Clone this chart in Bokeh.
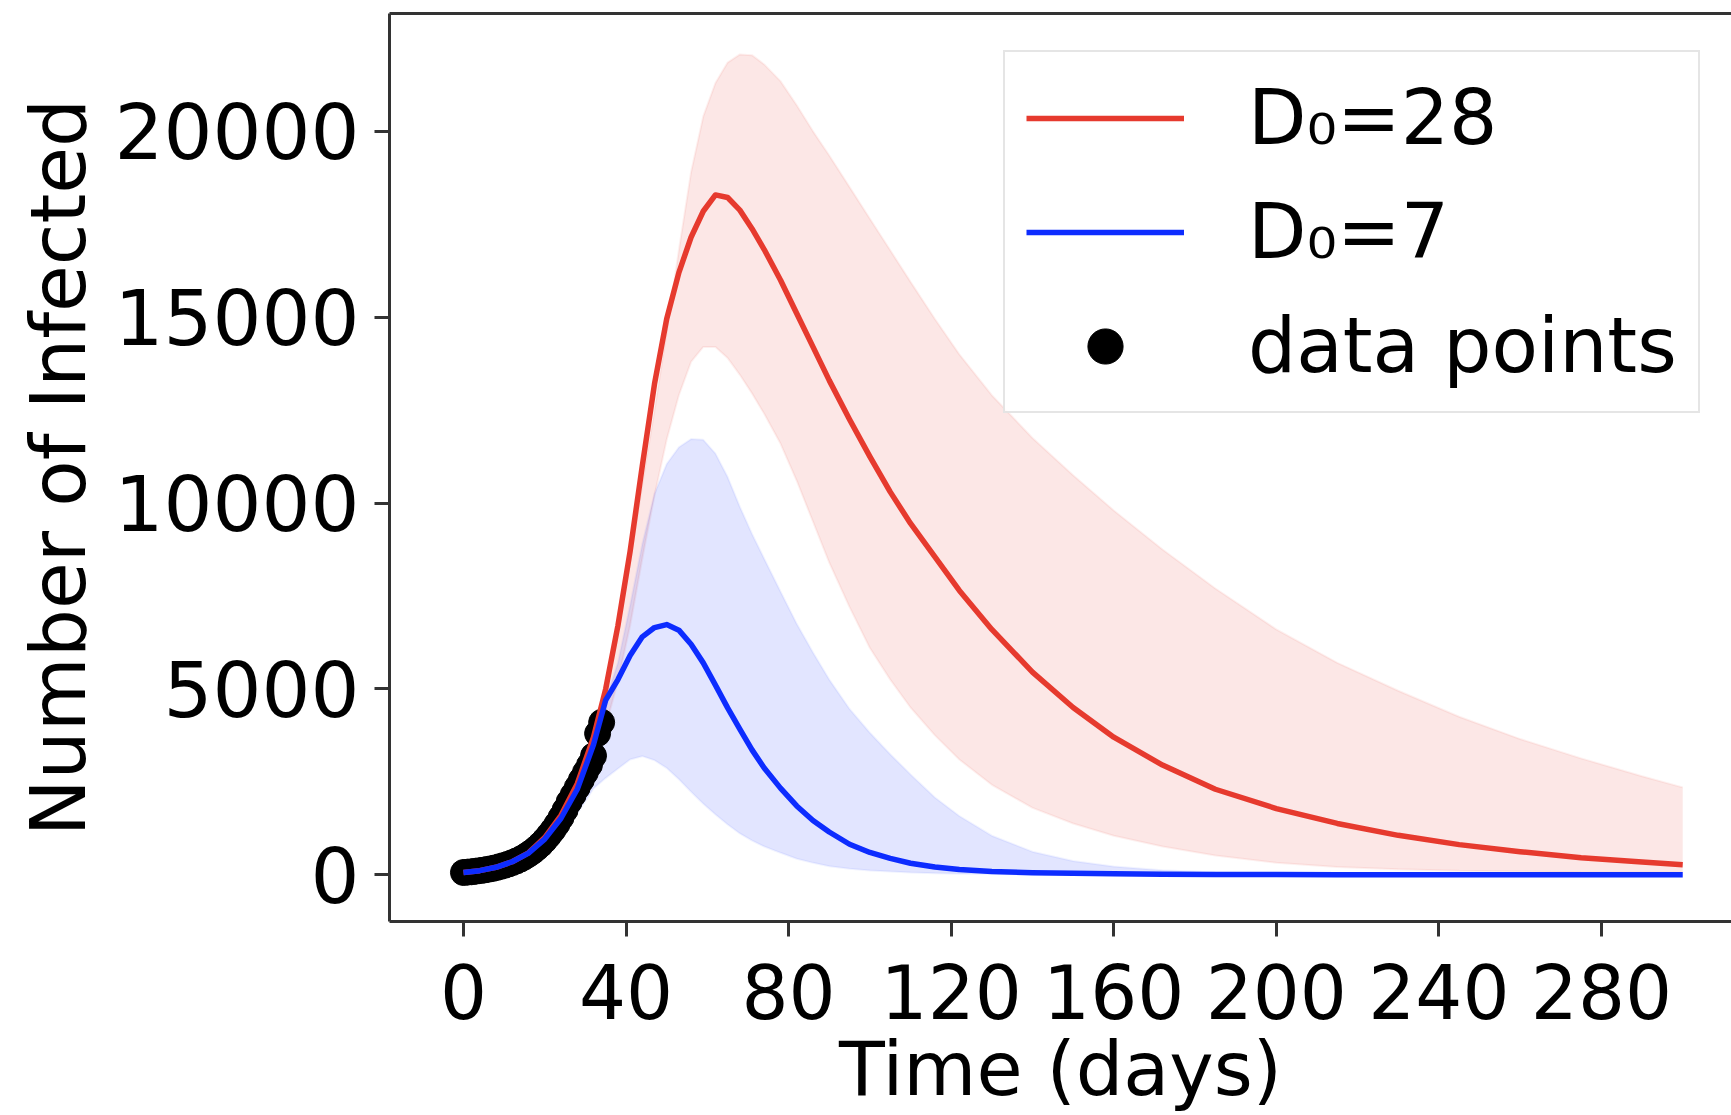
from bokeh.plotting import figure
from bokeh.models import (FixedTicker, LinearAxis, Legend, LegendItem)
from bokeh.embed import file_html
from bokeh.resources import INLINE

# ---- data ----
days = [0, 4, 8, 12, 16, 20, 24, 28, 32, 35, 38, 41, 44, 47, 50, 53, 56, 59, 62, 65,
        68, 71, 74, 78, 82, 86, 90, 95, 100, 105, 110, 116, 122, 130, 140, 150, 160,
        172, 185, 200, 215, 230, 245, 260, 275, 290, 300]

red_mean = [60, 110, 200, 350, 590, 1000, 1600, 2450, 3700, 5000, 6700, 8700, 11000,
            13200, 14950, 16200, 17150, 17850, 18290, 18220, 17880, 17380, 16820, 16000,
            15100, 14200, 13300, 12250, 11250, 10300, 9450, 8550, 7650, 6600, 5450, 4500,
            3700, 2950, 2300, 1780, 1380, 1060, 810, 620, 460, 340, 270]

red_upper = [60, 110, 200, 350, 590, 1000, 1600, 2450, 3700, 4900, 6500, 8400, 10500,
             12500, 14600, 16800, 18900, 20400, 21300, 21850, 22070, 22050, 21800, 21350,
             20700, 20000, 19350, 18500, 17650, 16800, 15950, 14950, 14000, 12900, 11750,
             10750, 9800, 8750, 7700, 6600, 5700, 4950, 4250, 3650, 3130, 2650, 2350]

red_lower = [55, 100, 180, 310, 510, 850, 1350, 2050, 3050, 4000, 5200, 6700, 8500,
             10200, 11700, 12900, 13800, 14200, 14200, 13900, 13450, 12950, 12400, 11600,
             10600, 9500, 8400, 7200, 6100, 5250, 4500, 3750, 3100, 2420, 1800, 1380,
             1050, 760, 520, 320, 210, 150, 110, 90, 70, 60, 55]

blue_mean = [60, 110, 200, 350, 580, 960, 1520, 2300, 3500, 4700, 5250, 5900, 6400,
             6650, 6730, 6580, 6200, 5700, 5100, 4490, 3920, 3360, 2870, 2330, 1850, 1460,
             1150, 820, 600, 440, 310, 210, 140, 90, 55, 38, 25, 14, 8, 4, 2, 1, 1, 0, 0,
             0, 0]

blue_upper = [65, 120, 220, 380, 640, 1060, 1700, 2600, 3800, 4700, 5700, 7250, 8900,
              10250, 11050, 11500, 11720, 11700, 11330, 10700, 9900, 9170, 8500, 7620,
              6750, 5980, 5250, 4460, 3820, 3240, 2700, 2080, 1580, 1050, 620, 370, 220,
              120, 60, 30, 15, 8, 4, 2, 1, 0, 0]

blue_lower = [40, 80, 150, 260, 430, 700, 1100, 1650, 2320, 2600, 2850, 3100, 3190,
              3080, 2870, 2570, 2230, 1910, 1620, 1350, 1110, 920, 760, 590, 430, 320,
              230, 160, 115, 85, 60, 40, 28, 18, 10, 6, 4, 2, 1, 1, 0, 0, 0, 0, 0, 0, 0]

obs_days = list(range(0, 35))
obs_infected = [60, 70, 80, 95, 110, 125, 145, 165, 190, 220, 250, 285, 325, 370, 420,
                480, 550, 625, 715, 815, 930, 1060, 1200, 1360, 1540, 1740, 1960, 2150,
                2350, 2550, 2750, 2950, 3200, 3800, 4100]

x_ticks = [0, 40, 80, 120, 160, 200, 240, 280]
y_ticks = [0, 5000, 10000, 15000, 20000]

RED = "#e63a2e"
BLUE = "#0d2cff"
FONT = "DejaVu Sans"
AX = "#333333"

p = figure(width=1731, height=1115, x_range=(-18.2, 312.0), y_range=(-1258, 23170),
           output_backend="svg", toolbar_location=None,
           min_border_left=389, min_border_right=0, min_border_top=13,
           min_border_bottom=192)
p.outline_line_color = None
p.xgrid.visible = False
p.ygrid.visible = False
p.background_fill_color = "white"
p.border_fill_color = "white"

# bands
p.varea(x=days, y1=red_lower, y2=red_upper, fill_color=RED, fill_alpha=0.12)
p.line(days, red_upper, line_color=RED, line_alpha=0.08, line_width=2)
p.line(days, red_lower, line_color=RED, line_alpha=0.08, line_width=2)
p.varea(x=days, y1=blue_lower, y2=blue_upper, fill_color=BLUE, fill_alpha=0.12)
p.line(days, blue_upper, line_color=BLUE, line_alpha=0.06, line_width=2)
p.line(days, blue_lower, line_color=BLUE, line_alpha=0.06, line_width=2)

pts = p.scatter(obs_days, obs_infected, size=26, fill_color="black", line_color="black")
r_red = p.line(days, red_mean, line_color=RED, line_width=5.5, line_join="round")
r_blue = p.line(days, blue_mean, line_color=BLUE, line_width=5.5, line_join="round")

# axes
for ax in (p.xaxis[0], p.yaxis[0]):
    ax.axis_line_color = AX
    ax.axis_line_width = 3
    ax.major_tick_line_color = AX
    ax.major_tick_line_width = 3
    ax.major_tick_out = 15
    ax.major_tick_in = 0
    ax.minor_tick_line_color = None
    ax.major_label_text_font = FONT
    ax.major_label_text_color = "black"
    ax.axis_label_text_font = FONT
    ax.axis_label_text_font_style = "normal"
    ax.axis_label_text_color = "black"

p.xaxis[0].major_label_text_font_size = "74px"
p.yaxis[0].major_label_text_font_size = "77px"
p.xaxis[0].axis_label_text_font_size = "75px"
p.yaxis[0].axis_label_text_font_size = "76px"

p.xaxis[0].ticker = FixedTicker(ticks=x_ticks)
p.yaxis[0].ticker = FixedTicker(ticks=y_ticks)
p.xaxis[0].axis_label = "Time (days)"
p.yaxis[0].axis_label = "Number of Infected"
p.xaxis[0].major_label_standoff = 27
p.xaxis[0].axis_label_standoff = 3
p.yaxis[0].major_label_standoff = 15
p.yaxis[0].axis_label_standoff = 9

top = LinearAxis(ticker=FixedTicker(ticks=[]), axis_line_color=AX, axis_line_width=3,
                 major_tick_line_color=None, minor_tick_line_color=None,
                 major_label_text_font_size="0px")
p.add_layout(top, "above")

legend = Legend(items=[LegendItem(label="D\u2080=28", renderers=[r_red]),
                       LegendItem(label="D\u2080=7", renderers=[r_blue]),
                       LegendItem(label="data points", renderers=[pts])],
                location=(614, 508))
legend.label_text_font = FONT
legend.label_text_font_size = "76px"
legend.label_text_color = "black"
legend.glyph_width = 158
legend.glyph_height = 88
legend.label_standoff = 64
legend.spacing = 25
legend.padding = 21
legend.margin = 0
legend.border_line_color = "#cccccc"
legend.border_line_width = 2.5
legend.background_fill_color = "white"
legend.background_fill_alpha = 0.85
p.add_layout(legend)

open("out.html", "w").write(file_html(p, INLINE))
